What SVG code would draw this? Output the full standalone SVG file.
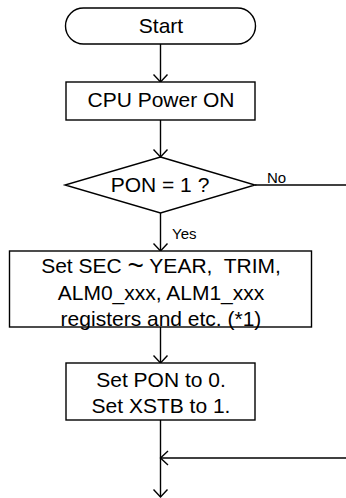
<svg xmlns="http://www.w3.org/2000/svg" width="346" height="498" viewBox="0 0 346 498">
<style>
.s{fill:#fff;stroke:#000;stroke-width:1.4}
.t{font-family:"Liberation Sans",Arial,sans-serif;font-size:21px;fill:#000;text-anchor:middle;white-space:pre}
.l{font-family:"Liberation Sans",Arial,sans-serif;font-size:15px;fill:#000}
.c{fill:none;stroke:#000;stroke-width:1.4}
</style>
<defs>
<marker id="a" markerWidth="16" markerHeight="16" refX="8" refY="8" orient="auto" markerUnits="userSpaceOnUse">
<path d="M0.5,1 L8,8 L0.5,15" fill="none" stroke="#000" stroke-width="1.4"/>
</marker>
</defs>
<g id="connectors">
<line class="c" x1="160.5" y1="44" x2="160.5" y2="82" marker-end="url(#a)"/>
<line class="c" x1="160.5" y1="120" x2="160.5" y2="157" marker-end="url(#a)"/>
<line class="c" x1="160.5" y1="213" x2="160.5" y2="251" marker-end="url(#a)"/>
<line class="c" x1="255" y1="185" x2="346" y2="185"/>
<line class="c" x1="160.5" y1="327" x2="160.5" y2="363" marker-end="url(#a)"/>
<line class="c" x1="160.5" y1="420" x2="160.5" y2="497" marker-end="url(#a)"/>
<line class="c" x1="346" y1="458" x2="160.5" y2="458" marker-end="url(#a)"/>
<text class="l" x="267" y="183">No</text>
<text class="l" x="172" y="239">Yes</text>
</g>
<g id="start">
<rect class="s" x="65.5" y="8" width="190" height="36" rx="18" ry="18"/>
<text class="t" x="161" y="33">Start</text>
</g>
<g id="cpu">
<rect class="s" x="66" y="82" width="189" height="38"/>
<text class="t" x="161" y="107">CPU Power ON</text>
</g>
<g id="decision">
<polygon class="s" points="160.5,157 255,185 160.5,213 65,185"/>
<text class="t" x="160" y="192">PON = 1 ?</text>
</g>
<g id="set">
<rect class="s" x="9.5" y="251" width="302" height="76"/>
<text class="t" x="161" y="273" xml:space="preserve">Set SEC <tspan font-size="28" dy="1.5">~</tspan><tspan dy="-1.5"> YEAR,  TRIM,</tspan></text>
<text class="t" x="161" y="300">ALM0_xxx, ALM1_xxx</text>
<text class="t" x="161" y="326">registers and etc. (*1)</text>
</g>
<g id="pon">
<rect class="s" x="66" y="363" width="189" height="57"/>
<text class="t" x="161" y="387">Set PON to 0.</text>
<text class="t" x="161" y="413">Set XSTB to 1.</text>
</g>
</svg>
